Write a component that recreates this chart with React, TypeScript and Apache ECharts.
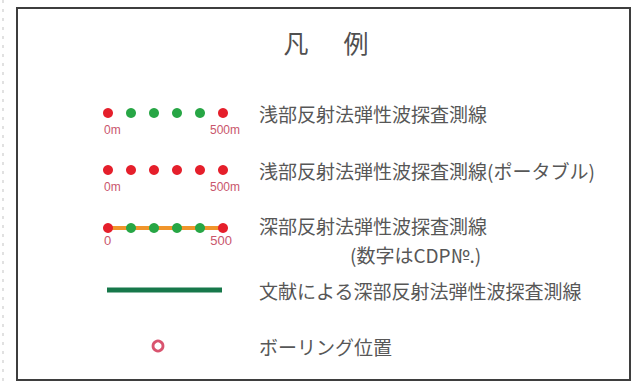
import React, { useEffect, useRef } from "react";
import * as echarts from "echarts";

const TITLE_CHARS = ["凡", "例"];
const ROW_LABELS = [
  "浅部反射法弾性波探査測線",
  "浅部反射法弾性波探査測線(ポータブル)",
  "深部反射法弾性波探査測線",
  "文献による深部反射法弾性波探査測線",
  "ボーリング位置",
];
const ROW_NOTE = "(数字はCDP№.)";
const DOTS_ROW1 = ["red", "green", "green", "green", "green", "red"];
const DOTS_ROW2 = ["red", "red", "red", "red", "red", "red"];
const DOTS_ROW3 = ["red", "green", "green", "green", "green", "red"];
const TICKS_M = ["0m", "500m"];
const TICKS_CDP = ["0", "500"];

const COLORS: Record<string, string> = { red: "#e51f2b", green: "#27a645" };
const TEXT_FONT = '19px "Noto Sans CJK JP"';
const TEXT_COLOR = "#575757";
const TICK_COLOR = "#c9566c";

export default function App() {
  const ref = useRef<HTMLDivElement>(null);
  useEffect(() => {
    if (!ref.current) return;
    const chart = echarts.init(ref.current, null, { renderer: "svg" });
    const x0 = 108;
    const x1 = 223;
    const rowsY = [113, 170, 228, 290, 346];
    const labelY = [113, 170, 225, 290, 346];
    const dotX = (i: number, n: number) => x0 + ((x1 - x0) * i) / (n - 1);
    const els: any[] = [];
    // frame
    els.push({
      type: "rect",
      shape: { x: 17, y: 8, width: 613, height: 372 },
      style: { fill: "#fff", stroke: "#3e3e3e", lineWidth: 2 },
    });
    els.push({
      type: "line",
      shape: { x1: 3, y1: 0, x2: 3, y2: 382 },
      style: { stroke: "#d8d8d8", lineWidth: 1.5, lineDash: [3, 6] },
    });
    // title
    TITLE_CHARS.forEach((c, i) => {
      els.push({
        type: "text",
        style: {
          text: c,
          x: 296 + i * 60,
          y: 42,
          font: '25px "Noto Sans CJK JP"',
          fill: "#505050",
          textAlign: "center",
          textVerticalAlign: "middle",
        },
      });
    });
    const dotRow = (colors: string[], y: number) => {
      colors.forEach((c, i) => {
        els.push({
          type: "circle",
          shape: { cx: dotX(i, colors.length), cy: y, r: 5 },
          style: { fill: COLORS[c] },
        });
      });
    };
    const ticks = (labels: string[], y: number, size: number) => {
      els.push({
        type: "text",
        style: { text: labels[0], x: x0 - 4, y, font: `${size}px Arial, "Liberation Sans"`, fill: TICK_COLOR, textAlign: "left", textVerticalAlign: "middle" },
      });
      els.push({
        type: "text",
        style: { text: labels[1], x: x1 + (labels[1].length > 3 ? 17 : 9), y, font: `${size}px Arial, "Liberation Sans"`, fill: TICK_COLOR, textAlign: "right", textVerticalAlign: "middle" },
      });
    };
    // row 1
    dotRow(DOTS_ROW1, rowsY[0]);
    ticks(TICKS_M, rowsY[0] + 17, 12);
    // row 2
    dotRow(DOTS_ROW2, rowsY[1]);
    ticks(TICKS_M, rowsY[1] + 17, 12);
    // row 3
    els.push({
      type: "line",
      shape: { x1: x0, y1: rowsY[2], x2: x1, y2: rowsY[2] },
      style: { stroke: "#f0952b", lineWidth: 4 },
    });
    dotRow(DOTS_ROW3, rowsY[2]);
    ticks(TICKS_CDP, rowsY[2] + 12, 13);
    // row 4
    els.push({
      type: "line",
      shape: { x1: x0 - 1, y1: rowsY[3], x2: x1 - 1, y2: rowsY[3] },
      style: { stroke: "#17784a", lineWidth: 5 },
    });
    // row 5
    els.push({
      type: "circle",
      shape: { cx: 158, cy: rowsY[4], r: 5 },
      style: { fill: "#fff", stroke: "#d9546f", lineWidth: 2.8 },
    });
    // labels
    ROW_LABELS.forEach((t, i) => {
      els.push({
        type: "text",
        style: { text: t, x: 259, y: labelY[i], font: TEXT_FONT, fill: TEXT_COLOR, textAlign: "left", textVerticalAlign: "middle" },
      });
    });
    els.push({
      type: "text",
      style: { text: ROW_NOTE, x: 350, y: 254, font: TEXT_FONT, fill: TEXT_COLOR, textAlign: "left", textVerticalAlign: "middle" },
    });
    chart.setOption({ animation: false, backgroundColor: "#fff", graphic: { elements: els } });
    return () => chart.dispose();
  }, []);
  return <div ref={ref} style={{ position: "fixed", left: 0, top: 0, width: 636, height: 382 }} />;
}
